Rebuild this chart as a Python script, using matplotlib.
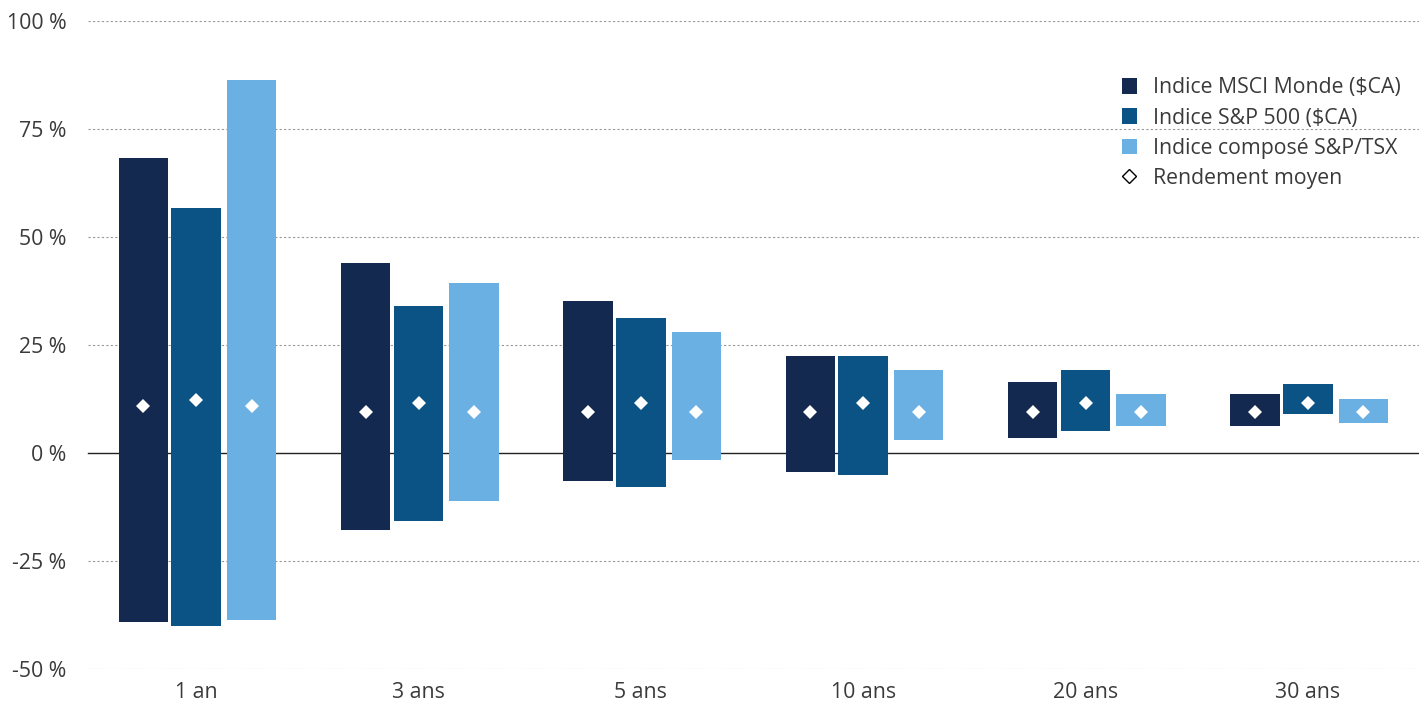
import numpy as np
import matplotlib.pyplot as plt
from matplotlib.patches import Patch
from matplotlib.lines import Line2D

plt.rcParams['font.family'] = ['Open Sans', 'DejaVu Sans']

periodes = ['1 an', '3 ans', '5 ans', '10 ans', '20 ans', '30 ans']
series = ['Indice MSCI Monde ($CA)', 'Indice S&P 500 ($CA)', 'Indice composé S&P/TSX']
couleurs = ['#13294f', '#0a5384', '#6ab0e2']

hauts = [
    [68.3, 44.0, 35.2, 22.5, 16.4, 13.7],
    [56.7, 34.0, 31.3, 22.5, 19.2, 16.0],
    [86.3, 39.4, 28.0, 19.2, 13.7, 12.5],
]
bas = [
    [-39.1, -17.8, -6.5, -4.4, 3.5, 6.2],
    [-40.0, -15.7, -7.9, -5.1, 5.1, 9.0],
    [-38.7, -11.1, -1.6, 3.0, 6.2, 6.9],
]
moyennes = [
    [10.9, 9.5, 9.5, 9.5, 9.5, 9.5],
    [12.3, 11.6, 11.6, 11.6, 11.6, 11.6],
    [10.9, 9.5, 9.5, 9.5, 9.5, 9.5],
]

fig = plt.figure(figsize=(14.28, 7.06), dpi=100)
ax = fig.add_axes([85/1428, 37/706, 1334/1428, 648/706])

x = np.arange(len(periodes))
decal = [-0.238, 0.0, 0.25]
larg = 0.222

for i in range(3):
    h = np.array(hauts[i])
    b = np.array(bas[i])
    ax.bar(x + decal[i], h - b, bottom=b, width=larg, color=couleurs[i], zorder=3)
    ax.plot(x + decal[i], moyennes[i], linestyle='none', marker='D', markersize=7,
            color='white', markeredgewidth=0, zorder=4)

ax.set_xlim(-0.5, 5.5)
ax.set_ylim(-50, 100)
ax.set_yticks([-50, -25, 0, 25, 50, 75, 100])
ax.set_yticklabels(['-50 %', '-25 %', '0 %', '25 %', '50 %', '75 %', '100 %'])
ax.set_xticks(x)
ax.set_xticklabels(periodes)

for y in [-50, -25, 25, 50, 75, 100]:
    ax.axhline(y, xmin=3/1334, color='#999999', lw=0.8, ls=(0, (2, 2)), zorder=1)
ax.axhline(0, xmin=3/1334, color='#222222', lw=1, zorder=2)

for s in ax.spines.values():
    s.set_visible(False)
ax.tick_params(axis='both', length=0, labelsize=15.3, colors='#3a3a3a')
ax.tick_params(axis='y', pad=13.5)
ax.tick_params(axis='x', pad=9.5)

poignees = [Patch(facecolor=c, edgecolor='none') for c in couleurs]
poignees.append(Line2D([0], [0], marker='D', linestyle='none', markersize=7,
                       markerfacecolor='white', markeredgecolor='black', markeredgewidth=1.0))
leg = ax.legend(poignees, series + ['Rendement moyen'], loc='upper left',
                bbox_to_anchor=(1113/1428, 637/706), bbox_transform=fig.transFigure,
                frameon=False, fontsize=15.3, handlelength=0.75, handleheight=0.75,
                handletextpad=0.75, labelspacing=0.43, borderaxespad=0)
for t in leg.get_texts():
    t.set_color('#3a3a3a')

fig.savefig('out.png', dpi=100)
